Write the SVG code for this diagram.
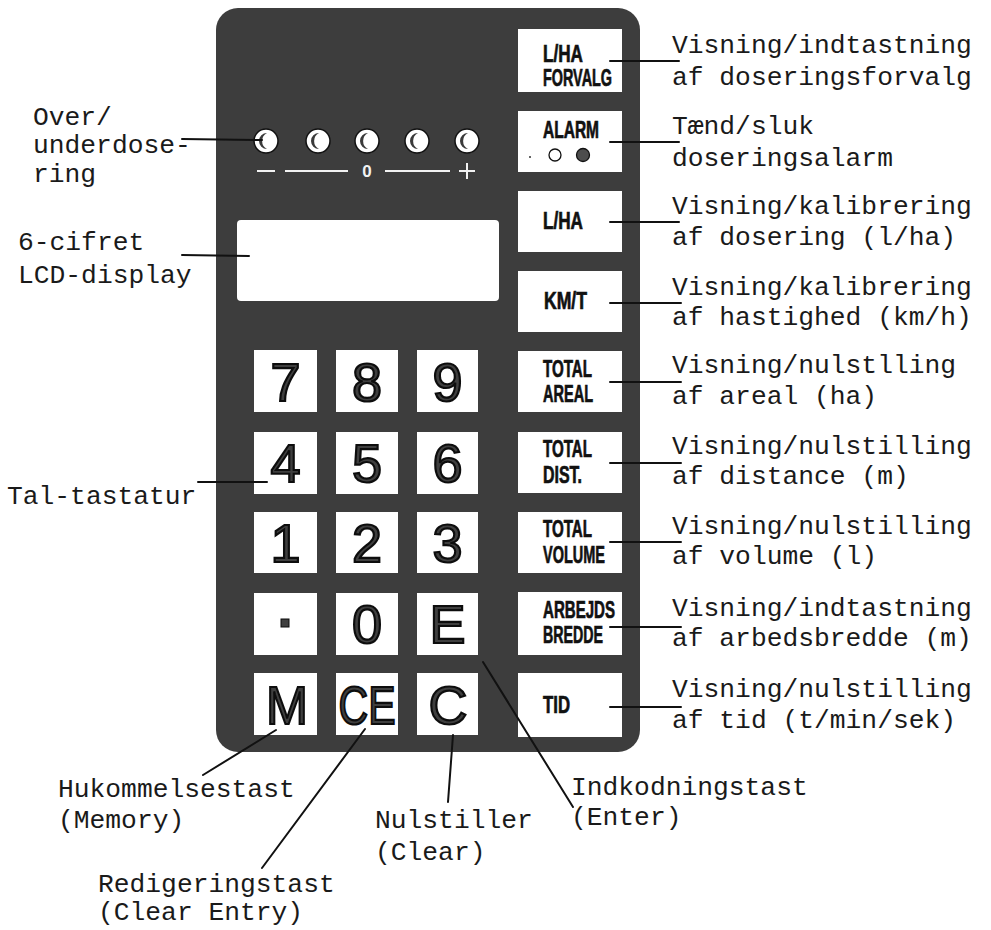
<svg xmlns="http://www.w3.org/2000/svg" width="991" height="930" viewBox="0 0 991 930">
  <style>
    .mono { font-family: "Liberation Mono", "DejaVu Sans Mono", monospace; font-size: 26.3px; fill: #1a1a1a; }
    .lead { stroke: #111; stroke-width: 2; fill: none; stroke-linecap: round; }
    .key { fill: #ffffff; }
    .dig { font-family: "Liberation Sans", Arial, sans-serif; font-size: 54px; fill: #3f3f3f; stroke: #0d0d0d; stroke-width: 2.2; text-anchor: middle; }
    .lbl { font-family: "Liberation Sans", Arial, sans-serif; font-weight: bold; font-size: 23.5px; fill: #111; stroke: #111; stroke-width: 0.7; }
    .led { fill: #ffffff; stroke: #111; stroke-width: 1.5; }
    .moon { fill: #3a3a3a; }
    .scale { stroke: #f2f2f2; stroke-width: 2; }
  </style>
  <rect width="991" height="930" fill="#ffffff"/>

  <!-- control panel body -->
  <g id="panel">
    <rect x="216" y="8" width="424" height="744" rx="22" fill="#3d3d3d"/>
  </g>

  <!-- dosage deviation LEDs -->
  <g id="leds">
    <g transform="translate(266,141)"><circle class="led" r="12"/><path class="moon" d="M1,-8 A8,8 0 0 0 1,8 A9,9 0 0 1 1,-8 Z"/></g>
    <g transform="translate(318,141)"><circle class="led" r="12"/><path class="moon" d="M1,-8 A8,8 0 0 0 1,8 A9,9 0 0 1 1,-8 Z"/></g>
    <g transform="translate(367,141)"><circle class="led" r="12"/><path class="moon" d="M1,-8 A8,8 0 0 0 1,8 A9,9 0 0 1 1,-8 Z"/></g>
    <g transform="translate(417,141)"><circle class="led" r="12"/><path class="moon" d="M1,-8 A8,8 0 0 0 1,8 A9,9 0 0 1 1,-8 Z"/></g>
    <g transform="translate(467,141)"><circle class="led" r="12"/><path class="moon" d="M1,-8 A8,8 0 0 0 1,8 A9,9 0 0 1 1,-8 Z"/></g>
    <line class="scale" x1="257" y1="171" x2="275" y2="171" stroke-width="3"/>
    <line class="scale" x1="285" y1="171" x2="348" y2="171"/>
    <text x="367" y="177" text-anchor="middle" font-family="Liberation Sans, Arial, sans-serif" font-weight="bold" font-size="17" fill="#f2f2f2">0</text>
    <line class="scale" x1="385" y1="171" x2="450" y2="171"/>
    <line class="scale" x1="459" y1="171" x2="475" y2="171" stroke-width="2.5"/>
    <line class="scale" x1="467" y1="163" x2="467" y2="179" stroke-width="2.5"/>
  </g>

  <!-- LCD window -->
  <g id="lcd">
    <rect x="237" y="220" width="262" height="81" rx="4" fill="#ffffff"/>
  </g>

  <!-- numeric keypad -->
  <g id="keypad">
    <g id="key-7"><rect class="key" x="254" y="350" width="63" height="62"/><text class="dig" x="285.5" y="401">7</text></g>
    <g id="key-8"><rect class="key" x="336" y="350" width="62" height="62"/><text class="dig" x="367" y="401">8</text></g>
    <g id="key-9"><rect class="key" x="417" y="350" width="61" height="62"/><text class="dig" x="447.5" y="401">9</text></g>

    <g id="key-4"><rect class="key" x="254" y="432" width="63" height="62"/><text class="dig" x="285.5" y="482">4</text></g>
    <g id="key-5"><rect class="key" x="336" y="432" width="62" height="62"/><text class="dig" x="367" y="482">5</text></g>
    <g id="key-6"><rect class="key" x="417" y="432" width="61" height="62"/><text class="dig" x="447.5" y="482">6</text></g>

    <g id="key-1"><rect class="key" x="254" y="512" width="63" height="61"/><text class="dig" x="285.5" y="562">1</text></g>
    <g id="key-2"><rect class="key" x="336" y="512" width="62" height="61"/><text class="dig" x="367" y="562">2</text></g>
    <g id="key-3"><rect class="key" x="417" y="512" width="61" height="61"/><text class="dig" x="447.5" y="562">3</text></g>

    <g id="key-dot"><rect class="key" x="254" y="593" width="63" height="62"/><rect x="281" y="619" width="8" height="8" fill="#3f3f3f" stroke="#0d0d0d" stroke-width="1"/></g>
    <g id="key-0"><rect class="key" x="336" y="593" width="62" height="62"/><text class="dig" x="367" y="643">0</text></g>
    <g id="key-E"><rect class="key" x="417" y="593" width="61" height="62"/><text class="dig" x="447.5" y="643">E</text></g>

    <g id="key-M"><rect class="key" x="254" y="673" width="63" height="62"/><text class="dig" x="287" y="724" font-size="57" textLength="42" lengthAdjust="spacingAndGlyphs">M</text></g>
    <g id="key-CE"><rect class="key" x="336" y="673" width="62" height="62"/><text class="dig" x="367" y="724" font-size="57" textLength="57" lengthAdjust="spacingAndGlyphs">CE</text></g>
    <g id="key-C"><rect class="key" x="417" y="673" width="61" height="62"/><text class="dig" x="448" y="724" font-size="57">C</text></g>
  </g>

  <!-- function keys -->
  <g id="fkey-lha-forvalg"><rect class="key" x="518" y="29" width="104" height="63"/>
    <text class="lbl" x="543" y="62" textLength="40" lengthAdjust="spacingAndGlyphs">L/HA</text>
    <text class="lbl" x="543" y="86" textLength="69" lengthAdjust="spacingAndGlyphs">FORVALG</text></g>
  <g id="fkey-alarm"><rect class="key" x="518" y="111" width="104" height="61"/>
    <text class="lbl" x="543" y="138" textLength="56" lengthAdjust="spacingAndGlyphs">ALARM</text>
    <circle cx="555" cy="155" r="6" fill="#ffffff" stroke="#111" stroke-width="1.3"/>
    <circle cx="583" cy="155" r="6.5" fill="#4d4d4d" stroke="#111" stroke-width="1.3"/>
    <circle cx="530" cy="157" r="1" fill="#333"/></g>
  <g id="fkey-lha"><rect class="key" x="518" y="191" width="104" height="61"/>
    <text class="lbl" x="543" y="229" textLength="40" lengthAdjust="spacingAndGlyphs">L/HA</text></g>
  <g id="fkey-kmt"><rect class="key" x="518" y="271" width="104" height="61"/>
    <text class="lbl" x="544" y="309" textLength="43" lengthAdjust="spacingAndGlyphs">KM/T</text></g>
  <g id="fkey-areal"><rect class="key" x="518" y="351" width="104" height="61"/>
    <text class="lbl" x="543" y="377" textLength="49" lengthAdjust="spacingAndGlyphs">TOTAL</text>
    <text class="lbl" x="543" y="402" textLength="50" lengthAdjust="spacingAndGlyphs">AREAL</text></g>
  <g id="fkey-dist"><rect class="key" x="518" y="432" width="104" height="61"/>
    <text class="lbl" x="543" y="457" textLength="49" lengthAdjust="spacingAndGlyphs">TOTAL</text>
    <text class="lbl" x="543" y="483" textLength="39" lengthAdjust="spacingAndGlyphs">DIST.</text></g>
  <g id="fkey-volume"><rect class="key" x="518" y="512" width="104" height="61"/>
    <text class="lbl" x="543" y="537" textLength="49" lengthAdjust="spacingAndGlyphs">TOTAL</text>
    <text class="lbl" x="543" y="563" textLength="62" lengthAdjust="spacingAndGlyphs">VOLUME</text></g>
  <g id="fkey-bredde"><rect class="key" x="518" y="592" width="104" height="63"/>
    <text class="lbl" x="543" y="618" textLength="72" lengthAdjust="spacingAndGlyphs">ARBEJDS</text>
    <text class="lbl" x="543" y="643" textLength="60" lengthAdjust="spacingAndGlyphs">BREDDE</text></g>
  <g id="fkey-tid"><rect class="key" x="518" y="673" width="104" height="64"/>
    <text class="lbl" x="543" y="713" textLength="27" lengthAdjust="spacingAndGlyphs">TID</text></g>

  <!-- leader lines -->
  <g id="connectors">
    <line class="lead" x1="182" y1="139" x2="262" y2="140"/>
    <line class="lead" x1="182" y1="255" x2="249" y2="256"/>
    <line class="lead" x1="198" y1="482" x2="267" y2="482"/>

    <line class="lead" x1="610" y1="61" x2="679" y2="61"/>
    <line class="lead" x1="610" y1="142" x2="679" y2="142"/>
    <line class="lead" x1="610" y1="222" x2="679" y2="222"/>
    <line class="lead" x1="610" y1="303" x2="681" y2="303"/>
    <line class="lead" x1="610" y1="382" x2="681" y2="382"/>
    <line class="lead" x1="610" y1="463" x2="681" y2="463"/>
    <line class="lead" x1="610" y1="542" x2="681" y2="542"/>
    <line class="lead" x1="610" y1="627" x2="681" y2="627"/>
    <line class="lead" x1="610" y1="707" x2="681" y2="707"/>

    <line class="lead" x1="203" y1="775" x2="276" y2="730"/>
    <line class="lead" x1="262" y1="868" x2="365" y2="729"/>
    <line class="lead" x1="453" y1="735" x2="448" y2="802"/>
    <line class="lead" x1="573" y1="807" x2="483" y2="662"/>
  </g>

  <!-- annotations, left -->
  <g id="label-led">
    <text class="mono" x="33" y="125">Over/</text>
    <text class="mono" x="33" y="153">underdose-</text>
    <text class="mono" x="33" y="182">ring</text>
  </g>
  <g id="label-lcd">
    <text class="mono" x="18" y="250">6-cifret</text>
    <text class="mono" x="18" y="283">LCD-display</text>
  </g>
  <g id="label-keypad">
    <text class="mono" x="7" y="504">Tal-tastatur</text>
  </g>

  <!-- annotations, right -->
  <g id="label-forvalg">
    <text class="mono" x="672" y="53">Visning/indtastning</text>
    <text class="mono" x="672" y="85">af doseringsforvalg</text>
  </g>
  <g id="label-alarm">
    <text class="mono" x="672" y="134">Tænd/sluk</text>
    <text class="mono" x="672" y="166">doseringsalarm</text>
  </g>
  <g id="label-lha">
    <text class="mono" x="672" y="214">Visning/kalibrering</text>
    <text class="mono" x="672" y="245">af dosering (l/ha)</text>
  </g>
  <g id="label-kmt">
    <text class="mono" x="672" y="295">Visning/kalibrering</text>
    <text class="mono" x="672" y="325">af hastighed (km/h)</text>
  </g>
  <g id="label-areal">
    <text class="mono" x="672" y="373">Visning/nulstlling</text>
    <text class="mono" x="672" y="404">af areal (ha)</text>
  </g>
  <g id="label-dist">
    <text class="mono" x="672" y="454">Visning/nulstilling</text>
    <text class="mono" x="672" y="484">af distance (m)</text>
  </g>
  <g id="label-volume">
    <text class="mono" x="672" y="534">Visning/nulstilling</text>
    <text class="mono" x="672" y="564">af volume (l)</text>
  </g>
  <g id="label-bredde">
    <text class="mono" x="672" y="616">Visning/indtastning</text>
    <text class="mono" x="672" y="646">af arbedsbredde (m)</text>
  </g>
  <g id="label-tid">
    <text class="mono" x="672" y="697">Visning/nulstilling</text>
    <text class="mono" x="672" y="728">af tid (t/min/sek)</text>
  </g>

  <!-- annotations, bottom -->
  <g id="label-memory">
    <text class="mono" x="58" y="797">Hukommelsestast</text>
    <text class="mono" x="58" y="828">(Memory)</text>
  </g>
  <g id="label-clear-entry">
    <text class="mono" x="98" y="892">Redigeringstast</text>
    <text class="mono" x="98" y="920">(Clear Entry)</text>
  </g>
  <g id="label-clear">
    <text class="mono" x="375" y="828">Nulstiller</text>
    <text class="mono" x="375" y="860">(Clear)</text>
  </g>
  <g id="label-enter">
    <text class="mono" x="571" y="795">Indkodningstast</text>
    <text class="mono" x="571" y="825">(Enter)</text>
  </g>
</svg>
